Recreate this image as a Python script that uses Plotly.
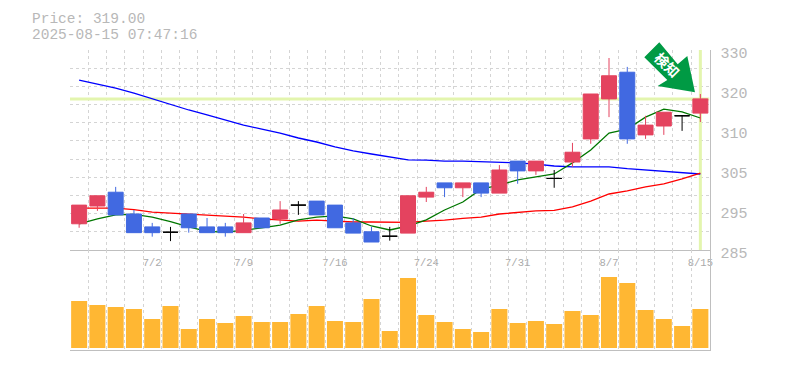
import plotly.graph_objects as go

W, H = 785, 370

open_ = [290.9,294.9,298.0,293.1,290.2,289.0,293.1,290.2,290.2,288.9,292.2,292.0,295.1,296.0,295.1,291.1,289.1,288.1,288.8,296.9,300.1,299.0,300.1,297.8,305.0,302.8,301.1,304.8,310.0,319.0,325.0,310.9,312.9,315.2,315.8]
high_ = [295.1,297.2,299.2,294.0,291.1,290.2,293.1,292.2,291.1,293.1,292.2,296.0,296.0,296.0,295.1,292.2,290.2,290.2,297.2,299.2,300.1,300.1,300.1,304.1,305.0,305.0,303.0,309.1,320.1,328.2,326.2,315.2,316.0,315.2,320.1]
low_ = [290.0,293.8,292.9,288.9,288.0,287.0,288.9,288.9,288.0,288.9,290.0,290.9,292.9,292.9,290.0,288.8,286.8,287.1,288.8,295.8,296.9,296.9,296.9,297.8,299.9,301.9,299.0,303.7,308.9,314.9,308.9,310.0,310.9,311.8,313.8]
close_ = [295.1,297.2,292.9,288.9,288.9,289.0,290.0,288.9,288.9,291.1,290.0,294.0,295.1,292.9,290.0,288.8,286.8,288.1,297.2,298.0,299.0,300.1,297.8,303.0,302.8,305.0,301.1,307.0,320.1,324.2,310.0,313.1,316.0,315.2,319.0]
ma_green = [290.9,292.0,292.9,293.0,292.4,291.4,290.2,289.2,289.0,289.4,290.0,290.6,291.8,292.4,292.7,292.0,290.4,289.5,290.4,291.8,294.0,295.8,298.7,299.6,300.8,301.4,302.1,304.6,307.5,311.3,312.2,314.9,316.7,316.1,314.7]
ma_red = [294.4,294.4,294.4,294.1,293.5,293.3,293.1,292.9,292.6,292.4,292.0,291.7,291.5,291.7,291.5,291.3,291.3,291.2,291.2,291.5,291.7,292.1,292.4,293.1,293.4,293.8,293.9,294.7,296.0,297.6,298.3,299.2,299.9,301.0,302.3]
ma_blue = [323.2,322.3,321.4,320.3,319.0,317.8,316.5,315.4,314.2,313.1,312.2,311.3,310.2,309.3,308.2,307.3,306.6,305.9,305.3,305.2,305.0,305.0,304.9,304.7,304.6,304.3,303.9,303.7,303.7,303.7,303.3,303.0,302.8,302.4,302.1]
volume = [47,43,41,39,29,42,19,29,25,32,26,26,34,42,27,26,49,17,70,33,26,19,16,39,25,27,24,37,33,71,65,38,29,22,39]
date_ticks = [4, 9, 14, 19, 24, 29, 34]
date_labels = ["7/2", "7/9", "7/16", "7/24", "7/31", "8/7", "8/15"]
price_ticks = [285, 294, 303, 312, 321, 330]
price_labels = ["285", "295", "305", "310", "320", "330"]
last_price = 319.0
title_lines = ["Price: 319.00", "2025-08-15 07:47:16"]
badge_text = "検知"

N = len(close_)
idx = list(range(N))
GRID = "#d4d4d4"
TXT = "#b8b8b8"
AXIS = "#bfbfbf"
MONO = "Liberation Mono"
XR = [-0.5, N - 0.5]
YR = [285, 330]
x_grid = [i - 0.5 for i in range(N + 1)]
y_grid = [285 + 45 * k / 11 for k in range(12)]


def px(x):
    return x / W


def py(y):
    return 1 - y / H


minor_x = dict(tickvals=x_grid, showgrid=True, gridcolor=GRID, griddash="3px,3px", gridwidth=1, ticks="")
minor_y = dict(tickvals=y_grid, showgrid=True, gridcolor=GRID, griddash="3px,3px", gridwidth=1, ticks="")

fig = go.Figure()

# lines beneath the candles
fig.add_trace(go.Scatter(x=XR, y=[last_price, last_price], mode="lines", line=dict(color="#e3f5ae", width=3), xaxis="x", yaxis="y"))
fig.add_trace(go.Scatter(x=[N - 1, N - 1], y=YR, mode="lines", line=dict(color="#e3f5ae", width=3), xaxis="x", yaxis="y"))
fig.add_trace(go.Scatter(x=idx, y=ma_blue, mode="lines", line=dict(color="#0000ff", width=1.3), xaxis="x", yaxis="y"))
fig.add_trace(go.Scatter(x=idx, y=ma_red, mode="lines", line=dict(color="#ff0000", width=1.3), xaxis="x", yaxis="y"))
fig.add_trace(go.Scatter(x=idx, y=ma_green, mode="lines", line=dict(color="#007700", width=1.3), xaxis="x", yaxis="y"))

# candles on an overlay
body = [i for i in idx if open_[i] != close_[i]]
doji = [i for i in idx if open_[i] == close_[i]]
fig.add_trace(go.Candlestick(
    x=body,
    open=[open_[i] for i in body], high=[high_[i] for i in body],
    low=[low_[i] for i in body], close=[close_[i] for i in body],
    increasing=dict(line=dict(color="#e4435f", width=1), fillcolor="#e4435f"),
    decreasing=dict(line=dict(color="#4169e1", width=1), fillcolor="#4169e1"),
    whiskerwidth=0, xaxis="x3", yaxis="y3"))
fig.add_trace(go.Candlestick(
    x=doji,
    open=[open_[i] for i in doji], high=[high_[i] for i in doji],
    low=[low_[i] for i in doji], close=[close_[i] for i in doji],
    increasing=dict(line=dict(color="#000000", width=1), fillcolor="#000000"),
    decreasing=dict(line=dict(color="#000000", width=1), fillcolor="#000000"),
    whiskerwidth=0, xaxis="x3", yaxis="y3"))

fig.add_trace(go.Bar(x=idx, y=volume, marker=dict(color="#ffb733", line=dict(width=0)), xaxis="x2", yaxis="y2"))

arrow = [(659.3, 42.3), (644.3, 57.3), (667.3, 80), (657.7, 86), (695, 92.3), (687.3, 56), (677.7, 64.3)]
path = "M " + " L ".join(f"{px(a):.5f} {py(b):.5f}" for a, b in arrow) + " Z"

dom_x = [px(70), px(709.5)]
fig.update_layout(
    width=W, height=H, margin=dict(l=0, r=0, t=0, b=0, autoexpand=False),
    paper_bgcolor="white", plot_bgcolor="white", showlegend=False,
    bargap=0.124, boxgap=0.18, boxgroupgap=0, boxmode="overlay",
    xaxis=dict(domain=dom_x, range=XR, anchor="y", tickmode="array", tickvals=date_ticks, ticktext=date_labels,
               showgrid=False, zeroline=False, showline=True, linecolor=AXIS, linewidth=1, ticks="",
               tickfont=dict(family=MONO, size=10.5, color="#aaaaaa"), ticklabelstandoff=2, minor=minor_x, rangeslider=dict(visible=False)),
    yaxis=dict(domain=[py(250), py(50)], range=YR, anchor="x", side="right", tickmode="array", tickvals=price_ticks,
               ticktext=price_labels, showgrid=False, zeroline=False, showline=True, linecolor=AXIS, linewidth=1, ticks="",
               tickfont=dict(family=MONO, size=15, color=TXT), ticklabelstandoff=7, ticklabelshift=3, minor=minor_y),
    xaxis2=dict(domain=dom_x, range=XR, anchor="y2", showticklabels=False, showgrid=False, zeroline=False,
                showline=True, linecolor=AXIS, linewidth=1, ticks="", minor=minor_x),
    yaxis2=dict(domain=[py(349.5), py(250)], range=[-1.5, 98], anchor="x2", side="right", showticklabels=False,
                showgrid=False, zeroline=False, showline=True, linecolor=AXIS, linewidth=1, ticks=""),
    xaxis3=dict(domain=dom_x, range=XR, overlaying="x", anchor="y3", visible=False, rangeslider=dict(visible=False)),
    yaxis3=dict(domain=[py(250), py(50)], range=YR, overlaying="y", anchor="x3", visible=False),
    shapes=[
        dict(type="path", xref="paper", yref="paper", path=path, fillcolor="#009a44", line=dict(width=0), layer="above"),
        dict(type="rect", xref="paper", yref="paper", x0=px(656), x1=px(676), y0=py(76), y1=py(56),
             fillcolor="rgba(0,0,0,0)", line=dict(width=0), layer="above",
             label=dict(text=f"<b>{badge_text}</b>", textangle=45, textposition="middle center",
                        font=dict(family="Noto Sans CJK JP", size=14, color="white"))),
    ],
    annotations=[
        dict(xref="paper", yref="paper", x=px(30), y=py(18.5), text=title_lines[0], showarrow=False, xanchor="left", yanchor="middle",
             font=dict(family=MONO, size=14.5, color=TXT)),
        dict(xref="paper", yref="paper", x=px(30), y=py(35), text=title_lines[1], showarrow=False, xanchor="left", yanchor="middle",
             font=dict(family=MONO, size=14.5, color=TXT)),
    ],
)
fig.write_html("out.html", config=dict(displayModeBar=False), post_script="document.body.style.margin='0';document.body.style.overflow='hidden';")
